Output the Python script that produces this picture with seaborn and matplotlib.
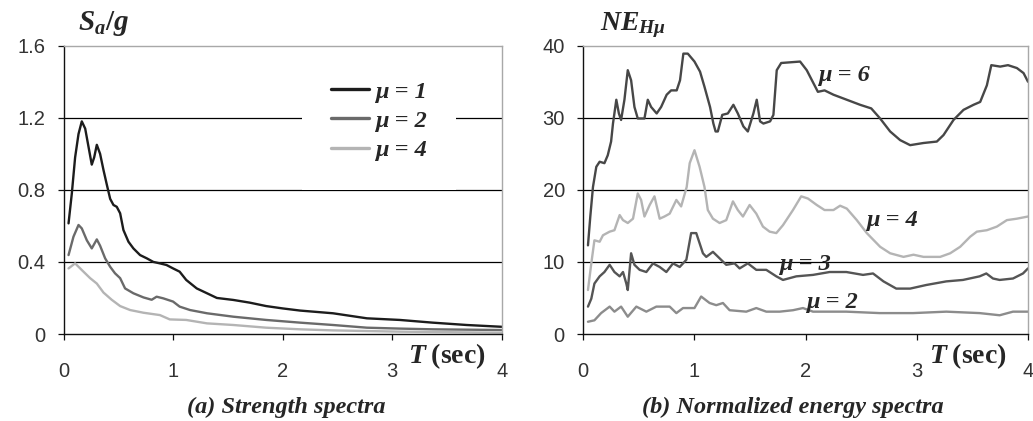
import numpy as np
import pandas as pd
import matplotlib
matplotlib.use("Agg")
import matplotlib.pyplot as plt
import seaborn as sns

# ---------------- data: (a) strength spectra ----------------
t_a1 = [0.046, 0.076, 0.106, 0.137, 0.167, 0.198, 0.228, 0.258, 0.28, 0.304, 0.334, 0.365, 0.395,
        0.426, 0.456, 0.486, 0.517, 0.547, 0.593, 0.638, 0.699, 0.76, 0.82, 0.88, 0.94, 1.0, 1.06,
        1.12, 1.216, 1.31, 1.40, 1.55, 1.70, 1.85, 2.0, 2.16, 2.46, 2.77, 3.07, 3.37, 3.68, 4.0]
sa_mu1 = [0.614, 0.78, 0.98, 1.11, 1.18, 1.14, 1.04, 0.94, 0.98, 1.05, 1.00, 0.91, 0.83,
          0.75, 0.716, 0.706, 0.67, 0.577, 0.512, 0.475, 0.438, 0.42, 0.40, 0.392, 0.383, 0.364, 0.346,
          0.30, 0.253, 0.226, 0.20, 0.189, 0.174, 0.155, 0.142, 0.13, 0.115, 0.087, 0.078, 0.063, 0.05, 0.04]

t_a2 = [0.046, 0.091, 0.137, 0.167, 0.213, 0.258, 0.304, 0.334, 0.38, 0.426, 0.47, 0.517, 0.562,
        0.638, 0.73, 0.805, 0.85, 0.91, 1.0, 1.06, 1.155, 1.31, 1.55, 1.85, 2.16, 2.46, 2.77, 3.07,
        3.37, 4.0]
sa_mu2 = [0.438, 0.54, 0.605, 0.586, 0.52, 0.475, 0.525, 0.49, 0.42, 0.373, 0.337, 0.31, 0.253,
          0.226, 0.203, 0.19, 0.207, 0.198, 0.18, 0.152, 0.133, 0.115, 0.096, 0.078, 0.063, 0.05, 0.035,
          0.03, 0.026, 0.022]

t_a4 = [0.046, 0.106, 0.167, 0.243, 0.304, 0.365, 0.44, 0.517, 0.608, 0.73, 0.88, 0.97, 1.12,
        1.31, 1.55, 1.85, 2.16, 2.46, 3.07, 4.0]
sa_mu4 = [0.364, 0.392, 0.355, 0.31, 0.28, 0.23, 0.19, 0.155, 0.133, 0.118, 0.105, 0.081, 0.078,
          0.059, 0.05, 0.035, 0.026, 0.02, 0.013, 0.007]

# ---------------- data: (b) normalized energy spectra ----------------
t_b6 = [0.042, 0.063, 0.087, 0.117, 0.147, 0.19, 0.22, 0.25, 0.267, 0.297, 0.32, 0.34, 0.37, 0.40,
        0.43, 0.46, 0.49, 0.55, 0.58, 0.61, 0.66, 0.70, 0.75, 0.79, 0.84, 0.87, 0.90, 0.94, 1.0, 1.05,
        1.09, 1.14, 1.17, 1.19, 1.21, 1.25, 1.30, 1.35, 1.39, 1.44, 1.48, 1.53, 1.56, 1.59, 1.62, 1.68,
        1.71, 1.74, 1.78, 1.95, 2.01, 2.07, 2.11, 2.17, 2.25, 2.37, 2.49, 2.59, 2.67, 2.76, 2.85, 2.94,
        3.06, 3.18, 3.24, 3.33, 3.42, 3.51, 3.57, 3.63, 3.67, 3.75, 3.82, 3.90, 3.96, 4.0]
ne_mu6 = [12.3, 16.3, 20.4, 23.2, 23.9, 23.7, 24.8, 26.7, 29.2, 32.5, 30.6, 29.7, 32.5, 36.6,
          35.2, 31.5, 29.9, 29.9, 32.5, 31.5, 30.6, 31.5, 33.2, 33.8, 33.8, 35.2, 38.9, 38.9, 37.8, 36.4,
          34.3, 31.5, 29.2, 28.1, 28.1, 30.4, 30.6, 31.8, 30.6, 28.8, 28.1, 30.6, 32.5, 29.5, 29.2, 29.5,
          30.4, 36.6, 37.6, 37.8, 36.6, 34.8, 33.6, 33.8, 33.2, 32.5, 31.8, 31.3, 29.9, 28.1, 26.9, 26.2,
          26.5, 26.7, 27.6, 29.7, 31.1, 31.8, 32.2, 34.5, 37.3, 37.1, 37.3, 36.9, 36.2, 35.0]

t_b4 = [0.042, 0.072, 0.10, 0.147, 0.177, 0.237, 0.28, 0.327, 0.357, 0.40, 0.447, 0.49, 0.52, 0.55,
        0.597, 0.64, 0.687, 0.73, 0.777, 0.837, 0.88, 0.93, 0.957, 1.0, 1.046, 1.09, 1.12, 1.166,
        1.226, 1.286, 1.346, 1.39, 1.436, 1.496, 1.556, 1.616, 1.676, 1.736, 1.796, 1.886, 1.96, 2.02,
        2.10, 2.17, 2.25, 2.31, 2.37, 2.46, 2.55, 2.67, 2.76, 2.88, 2.97, 3.06, 3.21, 3.30, 3.39, 3.48,
        3.54, 3.63, 3.72, 3.81, 3.90, 4.0]
ne_mu4 = [6.1, 9.8, 13.0, 12.8, 13.7, 14.2, 14.4, 16.5, 15.8, 15.4, 16.0, 19.5, 18.6, 16.3,
          17.9, 19.1, 16.0, 16.3, 16.7, 18.6, 17.7, 20.4, 23.7, 25.5, 23.2, 20.4, 17.2, 16.0,
          15.4, 15.8, 18.4, 17.2, 16.3, 17.9, 16.7, 14.9, 14.2, 14.0, 15.1, 17.2, 19.1, 18.8,
          17.9, 17.2, 17.2, 17.8, 17.4, 15.8, 14.0, 12.1, 11.2, 10.7, 11.0, 10.7, 10.7, 11.2, 12.1, 13.5,
          14.2, 14.4, 14.9, 15.8, 16.0, 16.3]

t_b3 = [0.042, 0.072, 0.10, 0.147, 0.19, 0.237, 0.28, 0.327, 0.357, 0.387, 0.40, 0.43, 0.46, 0.507,
        0.567, 0.627, 0.687, 0.747, 0.807, 0.867, 0.927, 0.97, 1.016, 1.076, 1.106, 1.166, 1.226,
        1.286, 1.36, 1.406, 1.48, 1.556, 1.646, 1.736, 1.796, 1.916, 2.066, 2.216, 2.366, 2.516, 2.606,
        2.70, 2.815, 2.94, 3.085, 3.265, 3.415, 3.565, 3.625, 3.685, 3.745, 3.865, 3.955, 4.0]
ne_mu3 = [3.8, 4.9, 7.0, 8.0, 8.6, 9.6, 8.6, 8.0, 8.6, 7.0, 6.1, 11.2, 9.6, 8.9,
          8.6, 9.8, 9.3, 8.6, 9.8, 9.3, 10.3, 14.0, 14.0, 11.2, 10.7, 11.4, 10.5,
          9.6, 9.8, 9.1, 9.8, 8.9, 8.9, 8.0, 7.5, 8.0, 8.2, 8.6, 8.6, 8.2, 8.4,
          7.3, 6.3, 6.3, 6.8, 7.3, 7.5, 8.0, 8.4, 7.7, 7.5, 7.7, 8.4, 9.1]

t_b2 = [0.042, 0.10, 0.16, 0.237, 0.28, 0.34, 0.40, 0.477, 0.567, 0.657, 0.777, 0.837, 0.897, 1.0,
        1.06, 1.136, 1.196, 1.256, 1.316, 1.466, 1.556, 1.646, 1.766, 1.886, 1.976, 2.066, 2.366,
        2.666, 2.966, 3.265, 3.565, 3.745, 3.865, 4.0]
ne_mu2 = [1.7, 1.9, 2.9, 3.8, 3.1, 3.8, 2.4, 3.8, 3.1, 3.8, 3.8, 2.9, 3.6, 3.6,
          5.2, 4.3, 4.0, 4.3, 3.3, 3.1, 3.6, 3.1, 3.1, 3.3, 3.6, 3.1, 3.1,
          2.9, 2.9, 3.1, 2.9, 2.6, 3.1, 3.1]

labels_a = ["μ = 1", "μ = 2", "μ = 4"]
labels_b = ["μ = 6", "μ = 4", "μ = 3", "μ = 2"]
xticks = [0, 1, 2, 3, 4]
yticks_a = [0, 0.4, 0.8, 1.2, 1.6]
ytick_labels_a = ["0", "0.4", "0.8", "1.2", "1.6"]
yticks_b = [0, 10, 20, 30, 40]
ytick_labels_b = ["0", "10", "20", "30", "40"]

df_a = pd.concat([
    pd.DataFrame({"T": t_a1, "v": sa_mu1, "s": labels_a[0]}),
    pd.DataFrame({"T": t_a2, "v": sa_mu2, "s": labels_a[1]}),
    pd.DataFrame({"T": t_a4, "v": sa_mu4, "s": labels_a[2]}),
], ignore_index=True)
df_b = pd.concat([
    pd.DataFrame({"T": t_b6, "v": ne_mu6, "s": labels_b[0]}),
    pd.DataFrame({"T": t_b4, "v": ne_mu4, "s": labels_b[1]}),
    pd.DataFrame({"T": t_b3, "v": ne_mu3, "s": labels_b[2]}),
    pd.DataFrame({"T": t_b2, "v": ne_mu2, "s": labels_b[3]}),
], ignore_index=True)

pal_a = {labels_a[0]: "#1c1c1c", labels_a[1]: "#6a6a6a", labels_a[2]: "#b4b4b4"}
pal_b = {labels_b[0]: "#474747", labels_b[1]: "#b4b4b4", labels_b[2]: "#555555", labels_b[3]: "#8c8c8c"}

sns.set_style("white")
plt.rcParams["font.family"] = ["Liberation Sans", "DejaVu Sans"]
plt.rcParams["mathtext.fontset"] = "custom"
plt.rcParams["mathtext.it"] = "Liberation Serif:italic:bold"
plt.rcParams["mathtext.rm"] = "Liberation Serif:bold"
plt.rcParams["mathtext.bf"] = "Liberation Serif:bold"

W, H = 1033, 421
fig = plt.figure(figsize=(W / 100, H / 100), dpi=100)
fig.patch.set_facecolor("white")
ax1 = fig.add_axes([63.5 / W, 87 / H, 438.2 / W, 288.3 / H])
ax2 = fig.add_axes([583.3 / W, 87 / H, 444.7 / W, 288.3 / H])

serif = dict(family="Liberation Serif", weight="bold", style="italic")

sns.lineplot(data=df_a, x="T", y="v", hue="s", hue_order=labels_a, palette=pal_a,
             estimator=None, sort=False, lw=1.7, ax=ax1, legend=True)
sns.lineplot(data=df_b, x="T", y="v", hue="s", hue_order=labels_b, palette=pal_b,
             estimator=None, sort=False, lw=1.7, ax=ax2, legend=False)

for ax, yt, ytl in [(ax1, yticks_a, ytick_labels_a), (ax2, yticks_b, ytick_labels_b)]:
    ax.set_xlim(xticks[0], xticks[-1])
    ax.set_ylim(yt[0], yt[-1])
    ax.set_xticks(xticks)
    ax.set_xticklabels([str(v) for v in xticks])
    ax.set_yticks(yt)
    ax.set_yticklabels(ytl)
    ax.set_xlabel("")
    ax.set_ylabel("")
    for v in yt[1:-1]:
        ax.axhline(v, color="black", lw=0.9, zorder=1)
    for side in ["top", "right"]:
        ax.spines[side].set_color("#a8a8a8")
        ax.spines[side].set_linewidth(1.0)
    for side in ["left", "bottom"]:
        ax.spines[side].set_color("#111111")
        ax.spines[side].set_linewidth(1.0)
    ax.tick_params(axis="both", direction="out", length=4.3, width=0.9, color="#111111",
                   labelsize=14.5, labelcolor="#333333")
    ax.tick_params(axis="y", pad=9, left=True)
    ax.tick_params(axis="x", pad=16, bottom=True)
    ax.text(0.876 if ax is ax1 else 0.865, -0.078, r"$T\;\mathrm{(sec)}$", transform=ax.transAxes,
            ha="center", va="center", fontsize=20, clip_on=False)

# legend for (a)
handles, labs = ax1.get_legend_handles_labels()
leg = ax1.legend(handles, labs, loc="upper left", bbox_to_anchor=(0.544, 0.98),
                 frameon=True, facecolor="white", edgecolor="none", framealpha=1,
                 fancybox=False, borderpad=1.2, borderaxespad=0, handlelength=1.55,
                 handletextpad=0.25, labelspacing=0.3, prop=dict(size=17.5, **serif))
for h in leg.get_lines():
    h.set_linewidth(2.4)
leg.set_zorder(5)

# labels on (b)
lab_pos_x = [2.34, 2.78, 1.99, 2.24]
lab_pos_y = [35.9, 15.8, 9.6, 4.4]
for lab, xx, yy in zip(labels_b, lab_pos_x, lab_pos_y):
    ax2.text(xx, yy, lab, ha="center", va="center", fontsize=17.5, **serif)

# axis titles at top
ax1.text(0.033, 1.054, r"$S_a/g$", transform=ax1.transAxes, ha="left", va="baseline", fontsize=21)
ax2.text(0.0375, 1.054, r"$NE_{H\mu}$", transform=ax2.transAxes, ha="left", va="baseline", fontsize=20)

# subtitles
ax1.text(0.508, -0.253, "(a) Strength spectra", transform=ax1.transAxes, ha="center", va="center",
         fontsize=17.5, **serif)
ax2.text(0.4716, -0.253, "(b) Normalized energy spectra", transform=ax2.transAxes, ha="center",
         va="center", fontsize=17.5, **serif)

fig.savefig("out.png", dpi=100, facecolor="white")
